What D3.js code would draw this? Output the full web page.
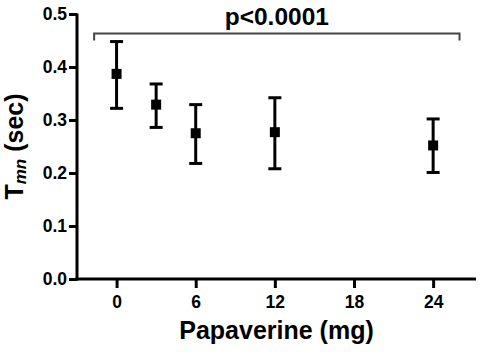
<!DOCTYPE html>
<html>
<head>
<meta charset="utf-8">
<script src="https://cdn.jsdelivr.net/npm/d3@7"></script>
<style>
  html, body { margin: 0; padding: 0; background: #fff; }
  svg { display: block; }
  text { font-family: "Liberation Sans", Arial, Helvetica, sans-serif; font-weight: bold; }
</style>
</head>
<body>
<svg id="chart" width="481" height="352"></svg>
<script>
// ---- data ----
const doses   = [0, 3, 6, 12, 24];
const means   = [0.387, 0.329, 0.275, 0.277, 0.252];
const uppers  = [0.448, 0.368, 0.329, 0.342, 0.302];
const lowers  = [0.322, 0.286, 0.218, 0.208, 0.201];
const xTicks  = [0, 6, 12, 18, 24];
const yTicks  = [0, 0.1, 0.2, 0.3, 0.4, 0.5];
const bracketX = [-1.7, 26];
const bracketY = [0.45, 0.463];
const pLabel  = "p<0.0001";
const xTitle  = "Papaverine (mg)";

// ---- scales ----
const svg = d3.select("#chart");
const x = d3.scaleLinear().domain([-3, 27.25]).range([77, 476]);
const y = d3.scaleLinear().domain([0, 0.5]).range([279, 14]);

// ---- axes ----
const yAxis = d3.axisLeft(y).tickValues(yTicks).tickFormat(d3.format(".1f"))
  .tickSize(8).tickSizeOuter(0).tickPadding(2);
const gy = svg.append("g").attr("transform", `translate(${x.range()[0]},0)`).call(yAxis);
gy.select(".domain").attr("stroke", "#000").attr("stroke-width", 3)
  .attr("d", `M0,${y(0) + 1.5}V${y(0.5) - 0.5}`);
gy.selectAll(".tick line").attr("stroke", "#000").attr("stroke-width", 3);
gy.selectAll(".tick text").attr("fill", "#000").style("font-size", "17.5px");

const xAxis = d3.axisBottom(x).tickValues(xTicks).tickFormat(d3.format("d"))
  .tickSize(9).tickSizeOuter(0);
const gx = svg.append("g").attr("transform", `translate(0,${y(0)})`).call(xAxis);
gx.select(".domain").attr("stroke", "#000").attr("stroke-width", 3)
  .attr("d", `M${x.range()[0] - 1.5},0H${x.range()[1]}`);
gx.selectAll(".tick line").attr("stroke", "#000").attr("stroke-width", 3);
gx.selectAll(".tick text").attr("fill", "#000").style("font-size", "17.5px")
  .attr("y", 29).attr("dy", null);

// ---- error bars ----
const g = svg.append("g");
const capW = 6.5;
doses.forEach((d, i) => {
  const cx = x(d);
  g.append("line").attr("x1", cx).attr("x2", cx).attr("y1", y(uppers[i])).attr("y2", y(lowers[i]))
    .attr("stroke", "#000").attr("stroke-width", 3);
  [uppers[i], lowers[i]].forEach(v => {
    g.append("line").attr("x1", cx - capW).attr("x2", cx + capW).attr("y1", y(v)).attr("y2", y(v))
      .attr("stroke", "#000").attr("stroke-width", 3);
  });
  g.append("rect").attr("x", cx - 5).attr("y", y(means[i]) - 5).attr("width", 10).attr("height", 10)
    .attr("fill", "#000");
});

// ---- significance bracket ----
svg.append("path")
  .attr("d", `M${x(bracketX[0])},${y(bracketY[0])}V${y(bracketY[1])}H${x(bracketX[1])}V${y(bracketY[0])}`)
  .attr("fill", "none").attr("stroke", "#444").attr("stroke-width", 2);
svg.append("text").attr("x", (x(bracketX[0]) + x(bracketX[1])) / 2 + 0).attr("y", 25)
  .attr("text-anchor", "middle").style("font-size", "24.5px").attr("fill", "#000").text(pLabel);

// ---- titles ----
svg.append("text").attr("x", (x.range()[0] + x.range()[1]) / 2).attr("y", 339)
  .attr("text-anchor", "middle").style("font-size", "25px").attr("fill", "#000").text(xTitle);

const yt = svg.append("text")
  .attr("transform", `translate(23,${(y(0) + y(0.5)) / 2}) rotate(-90)`)
  .attr("text-anchor", "middle").style("font-size", "25px").attr("fill", "#000");
yt.append("tspan").text("T");
yt.append("tspan").attr("dy", 3).style("font-size", "17px").style("font-style", "italic").text("mn");
yt.append("tspan").attr("dy", -3).text(" (sec)");
</script>
</body>
</html>
